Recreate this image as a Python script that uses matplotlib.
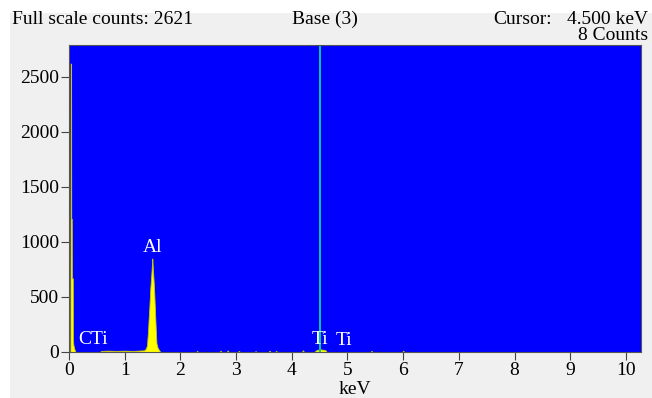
import matplotlib.pyplot as plt
from matplotlib.patches import Rectangle

# spectrum (keV, counts)
energy = [0.00, 0.025, 0.03, 0.038, 0.04, 0.05, 0.052, 0.068, 0.07, 0.08, 0.10, 0.12,
          0.55, 0.58, 0.70, 0.85, 1.00, 1.15, 1.30, 1.35, 1.38, 1.40, 1.42, 1.43, 1.44,
          1.45, 1.46, 1.47, 1.48, 1.49, 1.495, 1.50, 1.51, 1.52, 1.53, 1.54, 1.55, 1.56,
          1.57, 1.59, 1.62, 1.64,
          2.28, 2.30, 2.32, 2.70, 2.72, 2.74, 2.83, 2.85, 2.87, 3.03, 3.05, 3.07,
          3.33, 3.35, 3.37, 3.58, 3.60, 3.62, 3.70, 3.72, 3.74, 4.18, 4.20, 4.22,
          4.40, 4.45, 4.52, 4.60, 4.63, 5.41, 5.43, 5.45, 5.98, 6.00, 6.02, 10.27]
counts = [0, 0, 2621, 2621, 1210, 1210, 670, 670, 110, 60, 20, 0,
          0, 10, 12, 10, 12, 10, 14, 15, 30, 60, 200, 300, 380,
          480, 580, 650, 720, 800, 850, 810, 720, 640, 540, 420, 300, 180,
          80, 40, 15, 0,
          0, 10, 0, 0, 12, 0, 0, 14, 0, 0, 10, 0,
          0, 8, 0, 0, 12, 0, 0, 10, 0, 0, 16, 0,
          0, 20, 24, 18, 0, 0, 10, 0, 0, 12, 0, 0]

xticks = list(range(0, 11))
yticks = [0, 500, 1000, 1500, 2000, 2500]
peak_labels = [("CTi", 0.16, 40), ("Al", 1.50, 870), ("Ti", 4.51, 40), ("Ti", 4.94, 25)]
cursor_kev = 4.5

plt.rcParams['font.family'] = ['Liberation Serif', 'DejaVu Serif']
fs = 14

fig = plt.figure(figsize=(6.52, 3.98), dpi=100, facecolor='white')
# grey panel behind everything, white strip left and top
fig.patches.append(Rectangle((10 / 652, 0), 1, 1 - 13 / 398, transform=fig.transFigure,
                             facecolor='#f0f0f0', edgecolor='none', zorder=-1))
ax = fig.add_axes([69 / 652, 1 - 352 / 398, 572 / 652, 307 / 398])
ax.set_facecolor('#0000ff')

ax.fill_between(energy, counts, color='#ffff00', edgecolor='#c8c800', linewidth=0.6)
ax.axvline(cursor_kev, color='#00cc99', linewidth=1.4)

for txt, x, y in peak_labels:
    ax.text(x, y, txt, color='white', fontsize=fs, ha='center' if txt != 'CTi' else 'left',
            va='bottom')

ax.set_xlim(0, 10.27)
ax.set_ylim(0, 2790)
ax.set_xticks(xticks)
ax.set_yticks(yticks)
ax.tick_params(direction='out', length=6, color='#444444', labelsize=fs, pad=1)
for s in ax.spines.values():
    s.set_color('#555555')
ax.set_xlabel('keV', fontsize=fs, labelpad=2)

fig.text(12 / 652, 1 - 20 / 398, 'Full scale counts: 2621', fontsize=fs, va='center')
fig.text(325 / 652, 1 - 19 / 398, 'Base (3)', fontsize=fs, va='center', ha='center')
fig.text(493 / 652, 1 - 19 / 398, 'Cursor:', fontsize=fs, va='center')
fig.text(648 / 652, 1 - 19 / 398, '4.500 keV', fontsize=fs, va='center', ha='right')
fig.text(648 / 652, 1 - 36 / 398, '8 Counts', fontsize=fs, va='center', ha='right')

plt.savefig('out.png', dpi=100, facecolor=fig.get_facecolor())
